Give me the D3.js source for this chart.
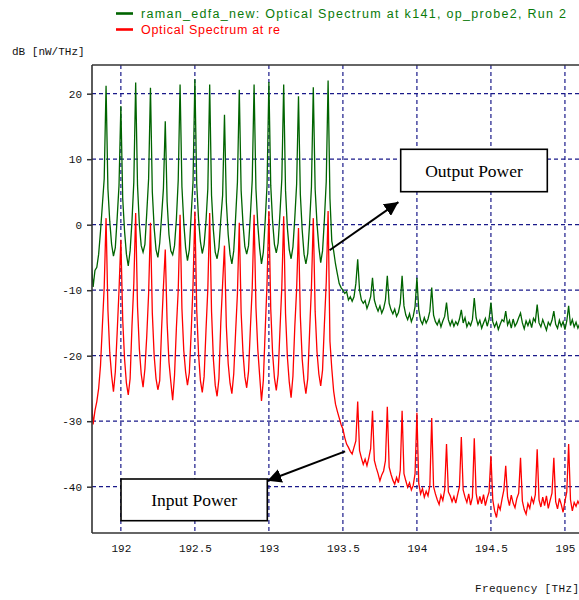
<!DOCTYPE html>
<html>
<head>
<meta charset="utf-8">
<script src="https://cdn.jsdelivr.net/npm/d3@7"></script>
<style>
html,body{margin:0;padding:0;background:#fff;}
svg{display:block;}
</style>
</head>
<body>
<svg id="chart" width="579" height="600"></svg>
<script>
// ---------- DATA ----------
const xTicks = [192, 192.5, 193, 193.5, 194, 194.5, 195];
const xTickLabels = ["192", "192.5", "193", "193.5", "194", "194.5", "195"];
const yTicks = [-40, -30, -20, -10, 0, 10, 20];
const yTickLabels = ["-40", "-30", "-20", "-10", "0", "10", "20"];
const seriesNames = ["raman_edfa_new: Optical Spectrum at k141, op_probe2, Run 2", "Optical Spectrum at re"];
const annotations = ["Output Power", "Input Power"];

// sample frequencies (THz): 191.8 .. 195.1, every 0.0125 THz
const freqStart = 191.8, freqStep = 0.0125, nSamples = 265;
const freqs = d3.range(nSamples).map(i => +(freqStart + i * freqStep).toFixed(4));

// Output (green) spectrum, dB
const outputDb = [
  -6, -9.5, -7, -6.5, -4.5, -1, 3, 7,
  21.2, 5.5, 0.5, -3, -4.8, -3.5, 1, 6,
  18.1, 4, -1, -4.5, -6.3, -4, 0.5, 6.5,
  21.7, 6, 0, -3.2, -4.2, -3, 1.8, 7,
  20.9, 5, -0.5, -3.8, -5, -2.8, 1.2, 5.5,
  15.8, 3.5, -1.5, -4, -4.6, -3.2, 0.8, 6.8,
  21.4, 5.8, 0.3, -3.5, -5.5, -3.8, 1.5, 6.5,
  22.2, 6.2, 0.8, -2.6, -4.4, -3, 0.5, 5.5,
  21.4, 4.5, -0.8, -4.2, -5.2, -3.5, 0.8, 4.5,
  16.8, 3.5, -1.5, -4.5, -6, -4, 1, 6.5,
  20.6, 5.2, 0.2, -3.3, -4.5, -3.2, 1.4, 6.8,
  21.4, 5.5, 0, -3.6, -6, -4.2, 0.6, 6,
  21.8, 6, 0.5, -3, -4.3, -2.8, 1.8, 7,
  21.4, 5.2, -0.5, -3.8, -5.2, -3.4, 1, 6.2,
  19.6, 4.6, -0.8, -4.5, -6, -4.4, 0.2, 5.8,
  21.0, 5.4, 0.2, -3.4, -5.8, -4, 0.8, 6.6,
  22.0, 4, -2.5, -4, -6, -7.5, -9, -9.6,
  -10, -10.5, -10.2, -11.5, -11, -11.7, -11, -9,
  -5.3, -10, -11.5, -12, -11.6, -12.8, -12, -11,
  -8.1, -11.5, -12.5, -13.2, -12.4, -13.5, -12.8, -11.5,
  -7.8, -12, -13, -13.6, -12.9, -14, -13.4, -12,
  -7.8, -12.4, -13.8, -14.5, -13.6, -14.8, -14, -12.5,
  -8.1, -13, -14.6, -15.2, -14.2, -15, -14.4, -13.2,
  -9.6, -13.8, -14.8, -15.3, -14.5, -15.6, -14.7, -14,
  -11.9, -14.5, -15.4, -14.6, -15.5, -14.8, -15.3, -14.4,
  -13, -15, -14.2, -15.6, -14.9, -15.4, -14.5, -11.2,
  -14.2, -15.3, -14.6, -15.8, -15, -14.3, -15.5, -14.4,
  -11.9, -14.8, -15.6, -14.9, -16, -15.2, -14.5, -14.8,
  -13.2, -15.3, -14.6, -15.8, -14.4, -15.5, -15, -14.2,
  -13.5, -15, -15.9, -14.7, -15.4, -14.6, -15.7, -14.3,
  -14.8, -12.2, -15, -15.6, -14.5, -15.3, -16.1, -14.9,
  -15.4, -14.6, -13.2, -15.2, -15.8, -14.6, -15.5, -14.8,
  -16, -14.7, -12.4, -15.4, -14.5, -15.6, -14.9, -15.8,
  -15.1
];

// Input (red) spectrum, dB
const inputDb = [
  -26.2, -30.5, -28.4, -27, -25, -21.5, -15.5, -9.5,
  1.0, -13, -19.5, -23, -25.5, -22.5, -16.5, -10,
  -2.3, -14.5, -20.5, -24.2, -26, -23.5, -15.5, -9,
  1.8, -12.5, -19, -22.8, -24.8, -22, -17, -10.5,
  0.3, -13.5, -20, -23.5, -25.2, -23.8, -16, -9.5,
  -3.8, -15, -21, -24, -26.8, -23, -15.8, -10,
  1.5, -12.8, -19.2, -22.5, -24.5, -22.6, -16.5, -9.2,
  2.0, -13, -19.8, -23.8, -25.6, -23.2, -16.2, -9.8,
  1.8, -13.2, -20.5, -24.5, -26.2, -23.5, -15, -9,
  -3.2, -15.5, -21.2, -24.2, -25.8, -22.8, -16.5, -10.5,
  0.3, -13.4, -19.5, -23.2, -24.9, -22.4, -15.8, -9.6,
  1.5, -12.6, -19, -23, -26.9, -23.8, -16.2, -9,
  2.1, -12.8, -19.6, -23.4, -25.3, -22.9, -16, -9.4,
  1.3, -13.6, -20.2, -24, -26.4, -23.1, -15.6, -9.8,
  -0.5, -14, -20.5, -23.8, -25.8, -23.5, -16.4, -9.5,
  1.0, -13.2, -19.4, -22.8, -24.6, -22.2, -15.2, -8.8,
  2.1, -17.8, -22, -25.4, -27.4, -28.5, -29.5, -30.5,
  -31.2, -32.5, -33.5, -34, -34.6, -35, -34, -33,
  -27.0, -34.5, -35.6, -36.6, -35.8, -36.8, -35.6, -34.2,
  -28.4, -36, -37.1, -38, -39.1, -38.2, -37.6, -36,
  -27.8, -37, -38.1, -39, -39.6, -38.6, -39.4, -37.5,
  -28.4, -38, -39.1, -40.1, -39.4, -40.5, -39.8, -38,
  -28.7, -39.5, -41.1, -40.3, -41.6, -40.7, -41.4, -39.8,
  -29.5, -40, -41.1, -42, -42.7, -41.3, -42.1, -40.5,
  -33.5, -40.8, -41.4, -42.3, -41.5, -42.5, -41.2, -40,
  -32.4, -40.5, -41.6, -42.4, -41.1, -42.8, -41.6, -32.6,
  -41, -42.7, -41.5, -42.6, -41.2, -42.9, -41.7, -40.8,
  -35.3, -42, -43.7, -44.7, -42.8, -43.5, -41.9, -40.5,
  -36.8, -41.6, -42.9, -41.3, -42.5, -43.2, -41.8, -41,
  -35.6, -42.2, -43.5, -44.2, -42.6, -43.3, -41.7, -42.5,
  -41.2, -34.3, -42, -43.1, -41.6, -42.9, -41.4, -43.3,
  -42.1, -41, -35.6, -42.3, -43.4, -41.8, -42.7, -43.9,
  -42.2, -40.8, -33.5, -42, -43.7, -42.4, -43, -42.2,
  -42.8
];

// annotation anchor points (data coordinates)
const outArrowFrom = [193.41, -3.9], outArrowTo = [193.875, 3.45];
const inArrowFrom = [193.515, -34.6], inArrowTo = [192.99, -39.1];

// ---------- LAYOUT ----------
const W = 579, H = 600;
const L = 92, R = 579, T = 65, B = 533;
const svg = d3.select("#chart");
svg.append("rect").attr("width", W).attr("height", H).attr("fill", "#fff");

const x = d3.scaleLinear().domain([191.805, 195.095]).range([L, R]);
const y = d3.scaleLinear().domain([-47.07, 24.38]).range([B, T]);

const mono = "'Liberation Mono','DejaVu Sans Mono',monospace";
const navy = "#1a1a8a";

// grid
const grid = svg.append("g");
grid.selectAll("line.v").data(xTicks).enter().append("line")
  .attr("x1", d => x(d)).attr("x2", d => x(d)).attr("y1", T).attr("y2", B)
  .attr("stroke", navy).attr("stroke-width", 1.2).attr("stroke-dasharray", "4,3");
grid.selectAll("line.h").data(yTicks).enter().append("line")
  .attr("x1", L).attr("x2", R).attr("y1", d => y(d)).attr("y2", d => y(d))
  .attr("stroke", navy).attr("stroke-width", 1.2).attr("stroke-dasharray", "4,3");

// data
svg.append("defs").append("clipPath").attr("id", "clip")
  .append("rect").attr("x", L).attr("y", T).attr("width", R - L).attr("height", B - T);
const line = d3.line().x(d => x(d[0])).y(d => y(d[1]));
const plot = svg.append("g").attr("clip-path", "url(#clip)");
plot.append("path").datum(freqs.map((f, i) => [f, outputDb[i]]))
  .attr("d", line).attr("fill", "none").attr("stroke", "#006400").attr("stroke-width", 1.3);
plot.append("path").datum(freqs.map((f, i) => [f, inputDb[i]]))
  .attr("d", line).attr("fill", "none").attr("stroke", "#ff0000").attr("stroke-width", 1.3);

// axes frame
const frame = svg.append("g").attr("stroke", "#333").attr("stroke-width", 1.6);
frame.append("line").attr("x1", L).attr("x2", L).attr("y1", T).attr("y2", B);
frame.append("line").attr("x1", L).attr("x2", R).attr("y1", B).attr("y2", B);
frame.append("line").attr("x1", L).attr("x2", R).attr("y1", T).attr("y2", T);

// y axis ticks via d3 axis
const yAxis = d3.axisLeft(y).tickValues(yTicks).tickSize(5).tickPadding(5)
  .tickFormat((d, i) => yTickLabels[i]);
const gy = svg.append("g").attr("transform", `translate(${L},0)`).call(yAxis);
gy.select(".domain").remove();
gy.selectAll(".tick line").attr("stroke", "#333").attr("stroke-width", 1.5);
gy.selectAll(".tick text").attr("font-family", mono).attr("font-size", 11).attr("fill", "#111");

// x axis labels via d3 axis
const xAxis = d3.axisBottom(x).tickValues(xTicks).tickSize(0).tickPadding(11)
  .tickFormat((d, i) => xTickLabels[i]);
const gx = svg.append("g").attr("transform", `translate(0,${B})`).call(xAxis);
gx.select(".domain").remove();
gx.selectAll(".tick text").attr("font-family", mono).attr("font-size", 11).attr("fill", "#111");

// axis titles
svg.append("text").attr("x", 12).attr("y", 55).attr("font-family", mono).attr("font-size", 11)
  .attr("fill", "#111").text("dB [nW/THz]");
svg.append("text").attr("x", 475).attr("y", 592).attr("font-family", mono).attr("font-size", 11)
  .attr("fill", "#111").attr("textLength", 104).attr("lengthAdjust", "spacing").text("Frequency [THz]");

// legend
const legColors = ["#0a7a0a", "#ff0000"];
const legLens = [425, 139];
seriesNames.forEach((name, i) => {
  const ly = 13.5 + i * 16;
  svg.append("line").attr("x1", 116).attr("x2", 133).attr("y1", ly).attr("y2", ly)
    .attr("stroke", i === 0 ? "#006400" : "#ff0000").attr("stroke-width", 2.6);
  svg.append("text").attr("x", 141).attr("y", ly + 4.5)
    .attr("font-family", "'Liberation Sans',Arial,sans-serif").attr("font-size", 12.5)
    .attr("fill", legColors[i]).attr("textLength", legLens[i]).attr("lengthAdjust", "spacing")
    .text(name);
});

// annotations
svg.append("defs").append("marker").attr("id", "arrow")
  .attr("viewBox", "0 0 10 10").attr("refX", 10).attr("refY", 5)
  .attr("markerWidth", 14).attr("markerHeight", 14).attr("markerUnits", "userSpaceOnUse")
  .attr("orient", "auto")
  .append("path").attr("d", "M0,0 L10,5 L0,10 z").attr("fill", "#000");

function arrow(from, to) {
  svg.append("line")
    .attr("x1", x(from[0])).attr("y1", y(from[1]))
    .attr("x2", x(to[0])).attr("y2", y(to[1]))
    .attr("stroke", "#000").attr("stroke-width", 2).attr("marker-end", "url(#arrow)");
}
arrow(outArrowFrom, outArrowTo);
arrow(inArrowFrom, inArrowTo);

function box(x0, y0, x1, y1, label) {
  svg.append("rect").attr("x", x0).attr("y", y0).attr("width", x1 - x0).attr("height", y1 - y0)
    .attr("fill", "#fff").attr("stroke", "#000").attr("stroke-width", 1.6);
  svg.append("text").attr("x", (x0 + x1) / 2).attr("y", y1 - 14.5).attr("text-anchor", "middle")
    .attr("font-family", "'Liberation Serif','Times New Roman',serif").attr("font-size", 17.5)
    .attr("fill", "#000").text(label);
}
box(400.7, 149.3, 547.3, 191.7, annotations[0]);
box(121, 479, 267.3, 520.7, annotations[1]);
</script>
</body>
</html>
